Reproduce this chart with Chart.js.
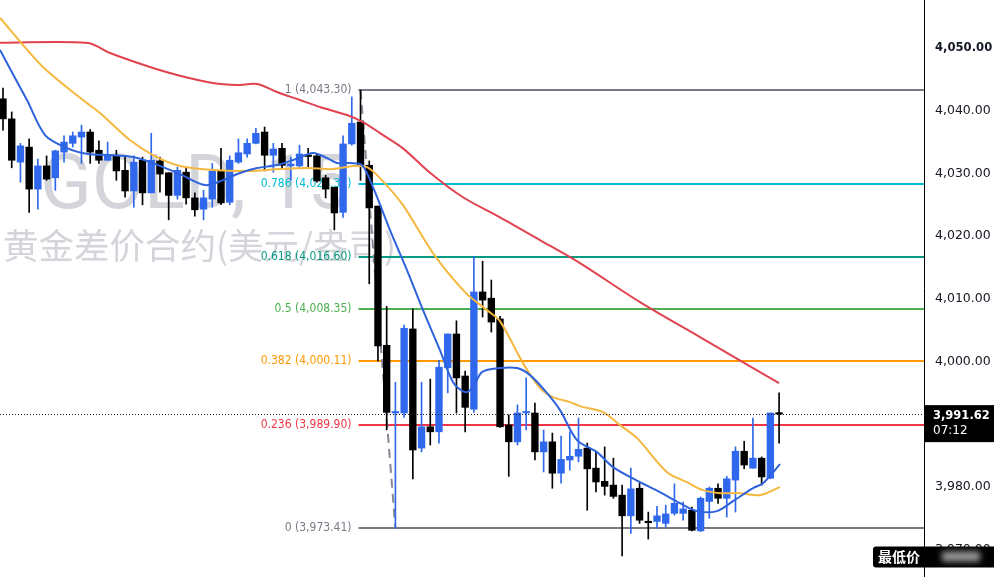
<!DOCTYPE html>
<html><head><meta charset="utf-8">
<script src="https://cdn.jsdelivr.net/npm/chart.js@4.4.1/dist/chart.umd.min.js"></script>
<style>html,body{margin:0;padding:0;background:#fff;}#wrap{position:relative;width:994px;height:577px;}</style>
</head><body><div id="wrap"><canvas id="c"></canvas></div>
<script>
// ---- candle data (15-minute bars, index 0..89) ----
const opens  = [4041.9,4038.7,4031.8,4034.2,4027.5,4031.2,4029.3,4033.4,4034.8,4035.8,
 4036.6,4033.7,4032.1,4032.8,4030.5,4027.2,4032.1,4026.9,4032.0,4030.1,
 4026.5,4030.2,4026.1,4024.3,4025.9,4030.4,4025.4,4031.8,4033.1,4034.8,
 4036.6,4032.9,4034.0,4031.2,4031.2,4032.9,4032.8,4029.3,4027.8,4023.8,
 4034.7,4038.2,4031.3,4024.8,4002.6,3991.8,3991.8,4005.2,3986.2,3989.6,
 3988.8,3999.0,4004.4,3997.7,3992.4,4011.1,4010.1,4006.8,3989.9,3987.2,
 3991.8,3991.8,3985.6,3987.2,3982.2,3984.3,3984.9,3986.2,3983.0,3980.9,
 3980.3,3978.7,3975.4,3979.8,3974.5,3974.5,3974.2,3975.8,3975.8,3976.3,
 3973.0,3977.7,3979.8,3978.2,3981.1,3985.7,3983.0,3984.6,3981.4,3991.8];
const highs  = [4043.6,4039.8,4034.8,4035.5,4032.3,4032.8,4033.7,4036.0,4036.6,4037.7,
 4037.0,4035.2,4035.0,4033.7,4032.8,4032.8,4032.6,4036.4,4032.6,4030.1,
 4031.0,4031.0,4026.9,4027.3,4031.6,4034.0,4032.8,4035.5,4035.5,4037.2,
 4037.4,4034.8,4034.8,4032.6,4034.5,4034.0,4033.1,4029.7,4027.8,4036.0,
 4042.2,4043.3,4032.0,4024.8,4008.8,3996.7,4005.8,4008.4,3996.7,3997.2,
 4000.2,4004.4,4006.5,3998.5,4016.8,4016.0,4013.0,4007.2,3991.5,3993.1,
 3997.4,3993.4,3989.1,3988.6,3988.1,3988.8,3991.0,3987.0,3985.6,3986.4,
 3984.6,3980.3,3983.0,3980.6,3976.0,3976.9,3977.1,3980.5,3977.6,3976.8,
 3978.4,3980.0,3980.5,3981.7,3986.4,3987.3,3991.0,3984.8,3991.8,3995.0];
const lows   = [4036.9,4030.9,4028.6,4023.8,4024.3,4028.9,4027.3,4031.8,4034.2,4031.6,
 4031.6,4031.6,4032.1,4028.9,4026.2,4024.6,4025.0,4026.9,4027.0,4022.6,
 4025.9,4025.1,4023.2,4022.6,4024.6,4025.0,4025.0,4031.6,4032.6,4034.7,
 4030.4,4030.2,4030.7,4028.9,4031.0,4031.0,4028.6,4026.1,4021.0,4023.0,
 4034.5,4028.9,4012.4,4000.1,3989.1,3973.41,3991.1,3981.3,3985.6,3986.7,
 3987.0,3995.0,3991.8,3988.8,3991.9,4007.1,4004.7,3989.5,3981.7,3986.7,
 3989.1,3984.3,3982.4,3979.8,3980.6,3982.7,3984.0,3976.3,3979.2,3978.7,
 3978.2,3969.0,3972.6,3974.2,3971.7,3973.4,3973.6,3975.5,3974.7,3973.0,
 3972.9,3975.0,3977.4,3975.2,3976.0,3982.9,3983.0,3980.3,3981.3,3987.0];
const closes = [4038.7,4032.1,4034.4,4027.5,4031.2,4029.1,4033.6,4035.0,4036.0,4036.6,
 4033.4,4032.1,4032.9,4030.4,4027.2,4031.8,4026.9,4032.1,4029.9,4026.5,
 4030.5,4026.1,4024.2,4026.1,4030.4,4025.3,4032.1,4033.3,4034.8,4036.4,
 4032.9,4033.9,4031.3,4031.5,4033.1,4032.7,4028.8,4027.5,4023.7,4034.7,
 4038.0,4031.3,4024.5,4002.5,3991.9,3992.0,4005.3,3985.9,3989.6,3988.8,
 3999.1,4004.4,3997.4,3992.7,4011.1,4009.8,4006.3,3989.6,3987.2,3991.8,
 3992.0,3985.6,3987.2,3982.2,3984.4,3984.9,3986.0,3982.9,3980.8,3980.1,
 3978.5,3975.4,3979.7,3974.7,3974.3,3975.4,3975.7,3977.4,3976.5,3973.1,
 3978.2,3979.8,3978.2,3981.3,3985.7,3983.5,3984.6,3981.6,3991.8,3991.62];

// ---- moving averages: [bar index, price] ----
const maFast = [[-0.34,4049.68],[1.38,4045.21],[2.75,4041.70],[4.82,4036.12],[7.34,4034.04],[9.75,4033.09],
 [12.27,4032.93],[14.91,4032.61],[16.86,4031.81],[20.30,4029.90],[23.17,4028.14],[25.23,4028.94],[27.18,4030.06],
 [29.13,4030.85],[31.42,4031.33],[33.26,4032.13],[35.55,4033.25],[37.16,4032.45],[38.30,4031.65],[39.79,4031.65],
 [41.17,4031.33],[42.43,4027.82],[44.38,4020.97],[46.33,4014.59],[48.17,4008.20],[50.11,4001.83],[51.61,3996.72],
 [52.98,3995.13],[53.90,3995.92],[54.93,3998.32],[56.99,3998.96],[58.94,3998.96],[60.44,3997.84],[62.39,3994.97],
 [63.88,3992.26],[65.83,3987.47],[68.12,3985.56],[69.95,3983.17],[73.05,3980.77],[75.34,3979.18],[77.64,3977.42],
 [79.59,3976.15],[81.88,3976.15],[83.72,3977.74],[86.01,3979.82],[87.16,3980.61],[89.11,3983.64]];
const maMid = [[-0.34,4054.78],[4.59,4046.96],[9.17,4041.70],[11.12,4039.63],[14.56,4035.32],[17.20,4032.93],
 [20.30,4031.17],[24.08,4030.54],[27.98,4030.38],[31.77,4030.69],[34.86,4030.85],[37.84,4030.69],[40.14,4031.17],
 [41.74,4031.01],[43.23,4029.26],[45.87,4024.95],[49.31,4017.30],[52.98,4011.08],[55.50,4008.20],[56.99,4006.45],
 [59.63,3999.75],[61.58,3995.77],[63.07,3994.33],[65.02,3993.53],[66.17,3992.89],[68.81,3991.94],[70.76,3989.86],
 [72.71,3987.79],[76.15,3982.37],[78.44,3980.77],[80.28,3979.50],[82.22,3979.02],[84.52,3979.02],[86.81,3978.70],
 [89.11,3979.98]];
const maSlow = [[-0.34,4050.84],[9.75,4050.80],[12.27,4049.20],[16.86,4046.96],[19.95,4045.69],[24.08,4044.41],
 [26.83,4044.10],[29.13,4044.25],[31.42,4042.98],[34.06,4041.70],[36.35,4040.58],[39.45,4039.31],[41.28,4038.19],
 [43.23,4036.44],[45.87,4034.00],[48.97,4030.10],[52.75,4026.20],[57.00,4023.00],[61.58,4019.37],[66.17,4015.70],
 [73.05,4009.48],[79.93,4003.90],[86.81,3998.32],[89.00,3996.56]];

// ---- Fibonacci retracement drawing ----
const fibRatios = ['1','0.786','0.618','0.5','0.382','0.236','0'];
const fibPrices = [4043.30,4028.34,4016.60,4008.35,4000.11,3989.90,3973.41];
const fibColors = ['#787b86','#00bcd4','#089981','#4caf50','#ff9800','#f23645','#787b86'];
const fibStartIndex = 41;
const swingLine = [[41,4043.30],[45,3973.41]];

const lastPrice = 3991.62;
const countdown = '07:12';
const lowLabel = '最低价';
const symbolText = 'GOLD, 15';
const descText = '黄金差价合约(美元/盎司)';

const UP = '#2f68ec', DOWN = '#000000';
const fmt = v => Number(v).toLocaleString('en-US',{minimumFractionDigits:2, maximumFractionDigits:2});
const colorOf = i => closes[i] >= opens[i] ? UP : DOWN;

const bodies = opens.map((o,i)=>({x:i, y:[o, closes[i]]}));
const wicks  = opens.map((o,i)=>({x:i, y:[lows[i], highs[i]]}));
const pts = arr => arr.map(([x,y])=>({x,y}));

const drawPlugin = {
  id:'tvdraw',
  beforeDatasetsDraw(chart){
    const {ctx, chartArea:a, scales:{x,y}} = chart;
    ctx.save();
    ctx.fillStyle = '#d3d5db';
    ctx.textAlign = 'left';
    ctx.textBaseline = 'alphabetic';
    ctx.font = '76px Roboto';
    ctx.fillText(symbolText, 40, 208);
    ctx.font = '35.5px "Noto Sans CJK SC"';
    ctx.textBaseline = 'middle';
    ctx.fillText(descText, 3, 246);
    const x0 = x.getPixelForValue(fibStartIndex);
    fibPrices.forEach((p,i)=>{
      const py = Math.round(y.getPixelForValue(p));
      ctx.strokeStyle = fibColors[i]; ctx.lineWidth = 2;
      ctx.beginPath(); ctx.moveTo(x0-2, py); ctx.lineTo(a.right, py); ctx.stroke();
      ctx.fillStyle = fibColors[i];
      ctx.font = '12px "DejaVu Sans Condensed","Liberation Sans"';
      ctx.textAlign = 'right'; ctx.textBaseline = 'middle';
      ctx.fillText(fibRatios[i]+' ('+fmt(p)+')', x0-9, py);
    });
    ctx.restore();
  },
  afterDatasetsDraw(chart){
    const {ctx, chartArea:a, scales:{y}} = chart;
    const py = Math.round(y.getPixelForValue(lastPrice)) + 0.5;
    ctx.save();
    ctx.strokeStyle = '#131722'; ctx.lineWidth = 1; ctx.setLineDash([1,2]);
    ctx.beginPath(); ctx.moveTo(a.left, py); ctx.lineTo(a.right, py); ctx.stroke();
    ctx.restore();
  },
  afterDraw(chart){
    const {ctx, chartArea:a, scales:{y}} = chart;
    ctx.save();
    ctx.strokeStyle = '#000'; ctx.lineWidth = 1;
    ctx.beginPath(); ctx.moveTo(a.right+0.5, 0); ctx.lineTo(a.right+0.5, chart.height); ctx.stroke();
    // last price label
    const py = y.getPixelForValue(lastPrice);
    ctx.fillStyle = '#000';
    ctx.fillRect(a.right, py-9, 72, 37);
    ctx.fillStyle = '#fff'; ctx.textAlign='left'; ctx.textBaseline='middle';
    ctx.font = 'bold 11.5px "DejaVu Sans"';
    ctx.fillText(fmt(lastPrice), a.right+9, py+2);
    ctx.font = '12px "DejaVu Sans"';
    ctx.fillText(countdown, a.right+9, py+16.5);
    // lowest price label
    const ly = y.getPixelForValue(Math.min(...lows));
    const bx = 873, bw = 130, bh = 21, by = ly - 9.5;
    ctx.fillStyle = '#000';
    ctx.beginPath();
    if (ctx.roundRect) ctx.roundRect(bx, by, bw, bh, 3); else ctx.rect(bx, by, bw, bh);
    ctx.fill();
    ctx.save();
    ctx.filter = 'blur(3px)';
    ctx.fillStyle = '#9a9a9a';
    ctx.fillRect(942, by+5, 38, 10);
    ctx.restore();
    ctx.fillStyle = '#fff';
    ctx.font = 'bold 14px "Noto Sans CJK SC"';
    ctx.textAlign = 'left'; ctx.textBaseline = 'middle';
    ctx.fillText(lowLabel, bx+5, by+bh/2);
    ctx.restore();
  }
};

new Chart(document.getElementById('c'), {
  type:'bar',
  data:{datasets:[
    {type:'line', data:pts(maFast), borderColor:'#2f63dc', borderWidth:2, pointRadius:0, tension:0.3, order:0},
    {type:'line', data:pts(maMid), borderColor:'#f5b83f', borderWidth:2, pointRadius:0, tension:0.3, order:1},
    {type:'line', data:pts(maSlow), borderColor:'#e0434f', borderWidth:2, pointRadius:0, tension:0.3, order:2},
    {type:'bar', data:bodies, backgroundColor:c=>colorOf(c.dataIndex), barThickness:6.7, grouped:false, minBarLength:1.5, order:3},
    {type:'bar', data:wicks, backgroundColor:c=>colorOf(c.dataIndex), barThickness:1, grouped:false, order:4},
    {type:'line', data:pts(swingLine), borderColor:'#868993', borderWidth:2, borderDash:[9,6], pointRadius:0, order:5}
  ]},
  options:{
    responsive:true, maintainAspectRatio:false, animation:false, devicePixelRatio:1,
    events:[],
    layout:{padding:0},
    plugins:{legend:{display:false}, tooltip:{enabled:false}},
    scales:{
      x:{type:'linear', min:-0.344, max:105.62, display:false, offset:false},
      y:{type:'linear', position:'right', min:3965.648, max:4057.654,
         grid:{display:false, drawTicks:false}, border:{display:false},
         ticks:{stepSize:10, includeBounds:false, padding:11, color:'#131722',
           font:c=>(c.tick && c.tick.value===4050)
             ? {family:'DejaVu Sans', size:11.6, weight:'bold'}
             : {family:'DejaVu Sans', size:12.5, weight:'normal'},
           callback:v=>fmt(v)},
         afterFit(s){ s.width = 70; s.paddingTop = 0; s.paddingBottom = 0; }
      }
    }
  },
  plugins:[drawPlugin]
});
</script>
</body></html>
